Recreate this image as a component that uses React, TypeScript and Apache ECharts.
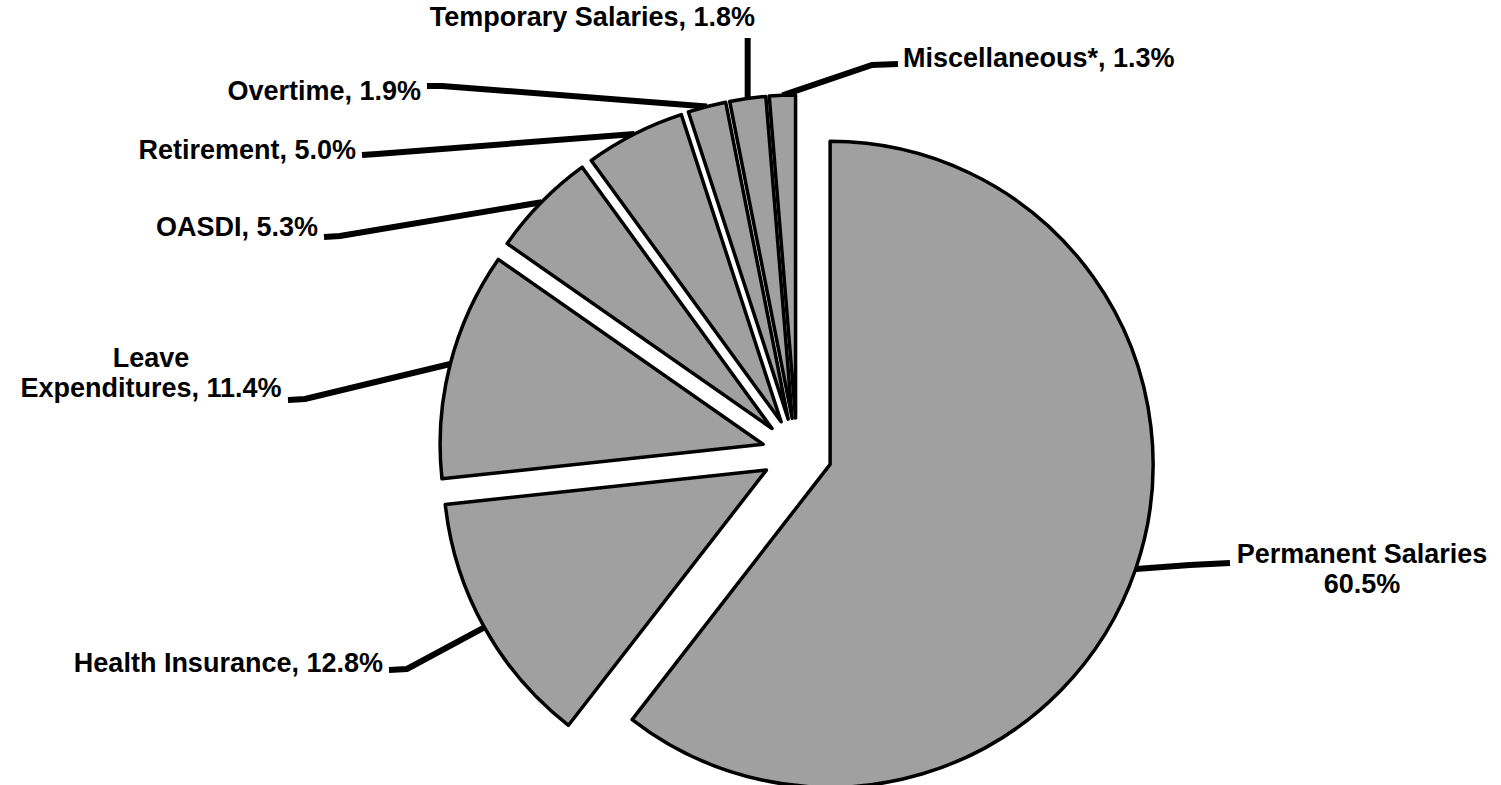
import React, { useEffect, useRef } from "react";
import * as echarts from "echarts";

// ---- data ----
const CATEGORIES = [
  "Permanent Salaries",
  "Health Insurance",
  "Leave Expenditures",
  "OASDI",
  "Retirement",
  "Overtime",
  "Temporary Salaries",
  "Miscellaneous*",
];
const VALUES = [60.5, 12.8, 11.4, 5.3, 5.0, 1.9, 1.8, 1.3];

// ---- layout ----
const PIE_CENTER = [797, 453];
const PIE_RADIUS = 323;
const EXPLODE = 35;
const FILL = "#a0a0a0";

// label anchor (x,y), alignment, leader bend & end, text wrap mode
const LABEL_LAYOUT: any[] = [
  { x: 1362, y: 569, align: "center", bend: [1190, 565], end: [1230, 563], wrap: "value" },
  { x: 383, y: 663, align: "right", bend: [407, 669], end: [389, 670], wrap: "none" },
  { x: 151, y: 373, align: "center", bend: [305, 399], end: [288, 400], wrap: "name" },
  { x: 318, y: 227, align: "right", bend: [340, 236], end: [324, 237], wrap: "none" },
  { x: 356, y: 150, align: "right", bend: [377, 154], end: [362, 155], wrap: "none" },
  { x: 421, y: 91, align: "right", bend: [442, 86], end: [427, 86], wrap: "none" },
  { x: 755, y: 17, align: "right", bend: null, end: [null, 38], wrap: "none" },
  { x: 903, y: 58, align: "left", bend: [872, 65], end: [898, 64], wrap: "none" },
];

function labelText(i: number): string {
  const name = CATEGORIES[i];
  const v = VALUES[i].toFixed(1) + "%";
  const w = LABEL_LAYOUT[i].wrap;
  if (w === "value") return name + "\n" + v;
  if (w === "name") return name.replace(" ", "\n") + ", " + v;
  return name + ", " + v;
}

export default function App() {
  const ref = useRef<HTMLDivElement>(null);
  useEffect(() => {
    if (!ref.current) return;
    const chart = echarts.init(ref.current, undefined, { renderer: "svg" });
    const total = VALUES.reduce((a, b) => a + b, 0);
    // mid-angles (radians, clockwise from 12 o'clock)
    const mids: number[] = [];
    let acc = 0;
    VALUES.forEach((v) => {
      const a0 = (acc / total) * Math.PI * 2;
      acc += v;
      const a1 = (acc / total) * Math.PI * 2;
      mids.push((a0 + a1) / 2);
    });
    const centers = mids.map((m) => [
      PIE_CENTER[0] + EXPLODE * Math.sin(m),
      PIE_CENTER[1] - EXPLODE * Math.cos(m),
    ]);
    const edges = mids.map((m, i) => [
      centers[i][0] + PIE_RADIUS * Math.sin(m),
      centers[i][1] - PIE_RADIUS * Math.cos(m),
    ]);

    const series = VALUES.map((_, si) => ({
      type: "pie",
      silent: true,
      center: centers[si],
      radius: PIE_RADIUS,
      startAngle: 90,
      clockwise: true,
      avoidLabelOverlap: false,
      emphasis: { disabled: true },
      data: VALUES.map((v, j) => ({
        name: CATEGORIES[j],
        value: v,
        itemStyle:
          j === si
            ? { color: FILL, borderColor: "#000", borderWidth: 3.5 }
            : { color: "rgba(0,0,0,0)", borderWidth: 0 },
        label: { show: j === si },
        labelLine: { show: j === si },
      })),
      label: {
        show: true,
        position: "outside",
        formatter: (p: any) => labelText(p.dataIndex),
        fontFamily: "'Liberation Sans', Arial, Helvetica, sans-serif",
        fontWeight: "bold",
        fontSize: 27,
        lineHeight: 30,
        color: "#000",
      },
      labelLine: {
        show: true,
        smooth: false,
        lineStyle: { color: "#000", width: 6, cap: "butt", join: "miter" },
      },
      labelLayout: (params: any) => {
        const i = params.dataIndex;
        if (i !== params.seriesIndex) return {};
        const L = LABEL_LAYOUT[i];
        const e = edges[i];
        const end = [L.end[0] == null ? e[0] : L.end[0], L.end[1]];
        const bend = L.bend ? L.bend : [e[0], (e[1] + end[1]) / 2];
        return {
          x: L.x,
          y: L.y,
          align: L.align,
          verticalAlign: "middle",
          labelLinePoints: [e, bend, end],
        };
      },
    }));

    chart.setOption({
      animation: false,
      backgroundColor: "#ffffff",
      series,
    });
    return () => chart.dispose();
  }, []);
  return (
    <div
      ref={ref}
      style={{ position: "fixed", left: 0, top: 0, width: 1501, height: 785, background: "#fff" }}
    />
  );
}
